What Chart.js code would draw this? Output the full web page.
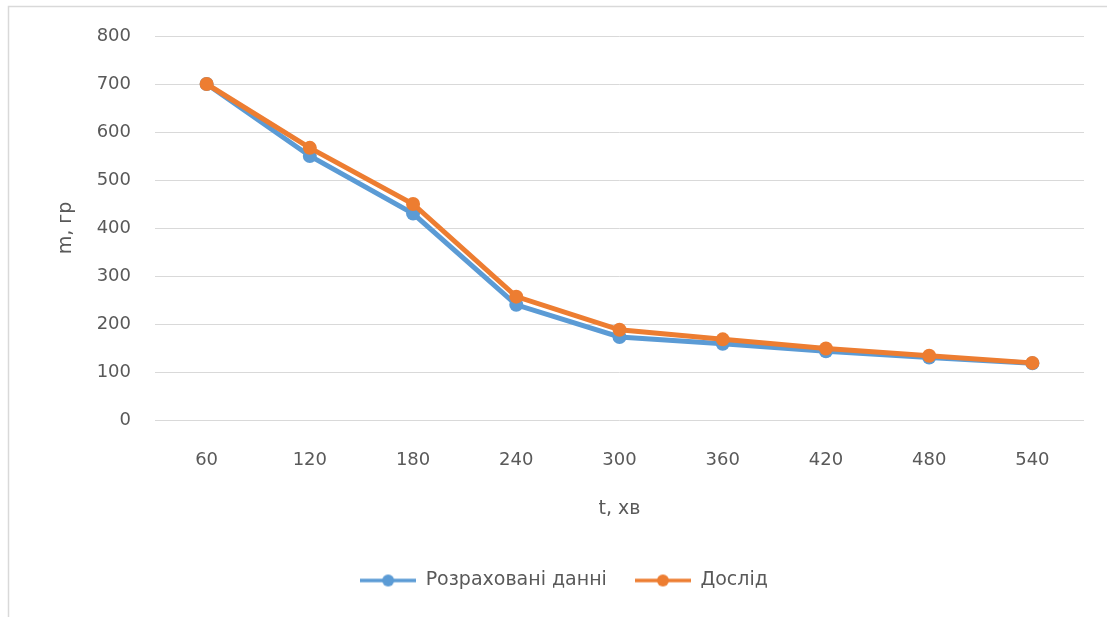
<!DOCTYPE html>
<html>
<head>
<meta charset="utf-8">
<style>
  html, body { margin: 0; padding: 0; background: #ffffff; }
  #wrap { width: 1107px; height: 617px; }
</style>
<script src="https://cdn.jsdelivr.net/npm/chart.js@4/dist/chart.umd.min.js"></script>
</head>
<body>
<div id="wrap"><canvas id="chart" width="1107" height="617"></canvas></div>
<script>
// Час сушіння, хв
const categories = ['60', '120', '180', '240', '300', '360', '420', '480', '540'];
// Маса зразка, гр
const calculated = [700, 550, 430, 240, 173, 159, 143, 130, 118];
const experiment = [700, 567, 450, 257, 188, 168, 149, 134, 119];
const yTicks = [0, 100, 200, 300, 400, 500, 600, 700, 800];

const BLUE = '#5B9BD5';
const ORANGE = '#ED7D31';
const TEXT = '#595959';
const GRID = '#d9d9d9';
const FONT = "'DejaVu Sans', sans-serif";

// legend marker: short line with a dot in the middle
function marker(color) {
  const c = document.createElement('canvas');
  c.width = 56; c.height = 14;
  const ctx = c.getContext('2d');
  ctx.strokeStyle = color;
  ctx.lineWidth = 3.5;
  ctx.beginPath(); ctx.moveTo(0, 7); ctx.lineTo(56, 7); ctx.stroke();
  ctx.fillStyle = color;
  ctx.beginPath(); ctx.arc(28, 7, 6, 0, Math.PI * 2); ctx.fill();
  return c;
}

const frame = {
  id: 'frame',
  beforeDraw(chart) {
    const ctx = chart.ctx;
    ctx.save();
    ctx.fillStyle = '#ffffff';
    ctx.fillRect(0, 0, chart.width, chart.height);
    ctx.strokeStyle = '#d9d9d9';
    ctx.lineWidth = 1.5;
    ctx.strokeRect(8.5, 6.5, chart.width + 20, chart.height + 20);
    ctx.restore();
  }
};

// the later series is painted over the earlier one
const series = (label, data, color, order) => ({
  label, data, order,
  borderColor: color, backgroundColor: color,
  borderWidth: 5,
  pointRadius: 7, pointHoverRadius: 7,
  pointBackgroundColor: color, pointBorderColor: color, pointBorderWidth: 0,
  tension: 0,
  markerImage: marker(color)
});

new Chart(document.getElementById('chart'), {
  type: 'line',
  data: {
    labels: categories,
    datasets: [
      series('Розраховані данні', calculated, BLUE, 2),
      series('Дослід', experiment, ORANGE, 1)
    ]
  },
  plugins: [frame],
  options: {
    responsive: false,
    animation: false,
    devicePixelRatio: 1,
    layout: { padding: { left: 44, right: 23, top: 36, bottom: 17 } },
    plugins: {
      tooltip: { enabled: false },
      legend: {
        position: 'bottom',
        labels: {
          usePointStyle: true,
          pointStyleWidth: 56,
          padding: 28,
          color: TEXT,
          font: { family: FONT, size: 19 },
          generateLabels(chart) {
            return chart.data.datasets.map((ds, i) => ({
              text: ds.label,
              pointStyle: ds.markerImage,
              fillStyle: ds.borderColor,
              strokeStyle: ds.borderColor,
              lineWidth: 0,
              hidden: false,
              datasetIndex: i,
              fontColor: TEXT
            }));
          },
          sort: (a, b) => a.datasetIndex - b.datasetIndex
        }
      }
    },
    scales: {
      x: {
        offset: true,
        grid: { display: false, drawTicks: false },
        border: { display: false },
        ticks: { color: TEXT, font: { family: FONT, size: 18 }, padding: 30, maxRotation: 0 },
        title: { display: true, text: 't, хв', color: TEXT, font: { family: FONT, size: 19 }, padding: { top: 0, bottom: 23 } },
        afterFit(scale) { scale.height = 123; }
      },
      y: {
        min: 0, max: 800,
        afterBuildTicks(scale) { scale.ticks = yTicks.map(v => ({ value: v })); },
        grid: { color: GRID, lineWidth: 1, drawTicks: false },
        border: { display: false },
        ticks: { color: TEXT, font: { family: FONT, size: 18 }, padding: 24 },
        title: { display: true, text: 'm, гр', color: TEXT, font: { family: FONT, size: 19 }, padding: { top: 11, bottom: 0 } },
        afterFit(scale) { scale.width = 111; }
      }
    }
  }
});
</script>
</body>
</html>
